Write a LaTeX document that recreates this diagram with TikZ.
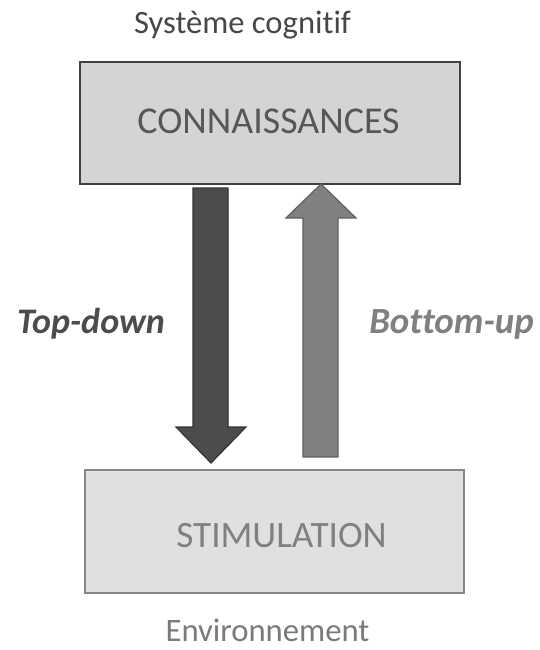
\documentclass[tikz,border=0pt]{standalone}
\usepackage{fontspec}
\setmainfont[Ligatures=NoCommon]{Carlito}
\begin{document}
\begin{tikzpicture}[x=1pt,y=-1pt,
  topbox/.style={draw=black!75,line width=2.6pt,fill=black!17},
  botbox/.style={draw=black!47,line width=2.4pt,fill=black!12},
  lbl/.style={inner sep=0pt,anchor=base},
  downarr/.style={draw=black!80,line width=1.2pt,fill=black!70,line join=miter},
  uparr/.style={draw=black!62,line width=1.2pt,fill=black!50,line join=miter}]
\useasboundingbox[fill=white] (0,0) rectangle (539,650);
% boxes
\draw[topbox] (80,62) rectangle (460,184);
\draw[botbox] (85,470) rectangle (464,593);
% texts
\node[lbl,text=black!72,font=\fontsize{32.6}{36}\selectfont] (sys) at (242.5,34) {Système cognitif};
\node[lbl,text=black!66,font=\fontsize{37.9}{42}\selectfont] (conn) at (268.5,133) {CONNAISSANCES};
\node[lbl,text=black!50,font=\fontsize{37.2}{42}\selectfont] (stim) at (281.5,547) {STIMULATION};
\node[lbl,text=black!52,font=\fontsize{32.7}{36}\selectfont] (env) at (267.5,641) {Environnement};
\node[lbl,text=black!70,font=\fontsize{36}{40}\bfseries\itshape] (td) at (91,333) {Top-down};
\node[lbl,text=black!50,font=\fontsize{36.9}{40}\bfseries\itshape] (bu) at (451.5,333) {Bottom-up};
% down arrow
\draw[downarr] (193,188) -- (228,188) -- (228,427) -- (246,427) -- (211,463) -- (176,427) -- (193,427) -- cycle;
% up arrow
\draw[uparr] (303,457) -- (338,457) -- (338,218) -- (356,218) -- (321,184) -- (286,218) -- (303,218) -- cycle;
\end{tikzpicture}
\end{document}
